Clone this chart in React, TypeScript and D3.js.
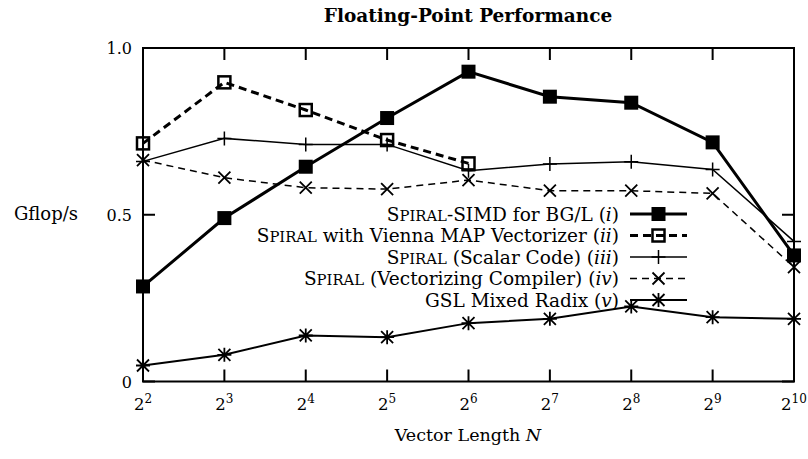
import React from 'react';
import * as d3 from 'd3';

// x positions are powers of two: 2^2 .. 2^10
const exponents = [2, 3, 4, 5, 6, 7, 8, 9, 10];

// Gflop/s per series
const simdBGL = [0.285, 0.49, 0.644, 0.79, 0.929, 0.854, 0.836, 0.717, 0.378];
const viennaMAP = [0.714, 0.897, 0.814, 0.724, 0.654];
const scalarCode = [0.66, 0.729, 0.711, 0.711, 0.632, 0.652, 0.659, 0.636, 0.42];
const vectCompiler = [0.664, 0.611, 0.581, 0.577, 0.604, 0.572, 0.572, 0.564, 0.343];
const gslRadix = [0.048, 0.08, 0.138, 0.133, 0.175, 0.188, 0.225, 0.193, 0.188];

const yTicks = [0, 0.5, 1.0];
const yTickLabels = ['0', '0.5', '1.0'];

const FONT = "'DejaVu Serif', serif";
const LEG_FS = 18.5;

type Marker = 'filled' | 'open' | 'plus' | 'cross' | 'star';

const series = [
  { spiral: true, label: '-SIMD for BG/L ', roman: 'i', values: simdBGL, marker: 'filled' as Marker, width: 3, dash: null },
  { spiral: true, label: ' with Vienna MAP Vectorizer ', roman: 'ii', values: viennaMAP, marker: 'open' as Marker, width: 3, dash: '8,5' },
  { spiral: true, label: ' (Scalar Code) ', roman: 'iii', values: scalarCode, marker: 'plus' as Marker, width: 1.5, dash: null },
  { spiral: true, label: ' (Vectorizing Compiler) ', roman: 'iv', values: vectCompiler, marker: 'cross' as Marker, width: 1.5, dash: '7,5' },
  { spiral: false, label: 'GSL Mixed Radix ', roman: 'v', values: gslRadix, marker: 'star' as Marker, width: 2, dash: null },
];

const drawMarker = (m: Marker, x: number, y: number, key: string) => {
  const s = 7;
  switch (m) {
    case 'filled':
      return <rect key={key} x={x - s} y={y - s} width={2 * s} height={2 * s} fill="#000" />;
    case 'open':
      return <rect key={key} x={x - 6} y={y - 6} width={12} height={12} fill="none" stroke="#000" strokeWidth={2.5} />;
    case 'plus':
      return <path key={key} d={`M${x - 7},${y}H${x + 7}M${x},${y - 7}V${y + 7}`} stroke="#000" strokeWidth={1.5} />;
    case 'cross':
      return <path key={key} d={`M${x - 6},${y - 6}L${x + 6},${y + 6}M${x - 6},${y + 6}L${x + 6},${y - 6}`} stroke="#000" strokeWidth={1.8} />;
    default:
      return (
        <path
          key={key}
          d={`M${x - 7},${y}H${x + 7}M${x},${y - 7}V${y + 7}M${x - 6},${y - 6}L${x + 6},${y + 6}M${x - 6},${y + 6}L${x + 6},${y - 6}`}
          stroke="#000"
          strokeWidth={1.8}
        />
      );
  }
};

export default function App() {
  const left = 143, right = 794, top = 48, bottom = 381.5;
  const x = d3.scaleLinear().domain([2, 10]).range([left, right]);
  const y = d3.scaleLinear().domain([0, 1]).range([bottom, top]);
  const line = d3.line<number>().x((d, i) => x(exponents[i])).y((d) => y(d));
  const tick = 12;

  return (
    <svg width={808} height={459} style={{ position: 'absolute', left: 0, top: 0, background: '#fff', fontFamily: FONT }}>
      <text x={468} y={22} textAnchor="middle" fontWeight="bold" fontSize={18.5}>
        Floating-Point Performance
      </text>

      {/* frame and ticks */}
      <rect x={left} y={top} width={right - left} height={bottom - top} fill="none" stroke="#000" strokeWidth={2} />
      {exponents.map((e) => (
        <g key={'xt' + e}>
          <line x1={x(e)} x2={x(e)} y1={bottom} y2={bottom - tick} stroke="#000" strokeWidth={2} />
          <line x1={x(e)} x2={x(e)} y1={top} y2={top + tick} stroke="#000" strokeWidth={2} />
          <text x={x(e)} y={410} textAnchor="middle" fontSize={16.5}>
            2<tspan dy={-7} fontSize={12}>{e}</tspan>
          </text>
        </g>
      ))}
      {yTicks.map((t, i) => (
        <g key={'yt' + t}>
          <line x1={left} x2={left + tick} y1={y(t)} y2={y(t)} stroke="#000" strokeWidth={2} />
          <line x1={right} x2={right - tick} y1={y(t)} y2={y(t)} stroke="#000" strokeWidth={2} />
          <text x={left - 11} y={y(t) + 6} textAnchor="end" fontSize={16}>
            {yTickLabels[i]}
          </text>
        </g>
      ))}

      <text x={46} y={220} textAnchor="middle" fontSize={18}>Gflop/s</text>
      <text x={468} y={441} textAnchor="middle" fontSize={17.5}>
        Vector Length <tspan fontStyle="italic">N</tspan>
      </text>

      {/* series */}
      {series.map((s, si) => (
        <g key={'s' + si}>
          <path d={line(s.values) || ''} fill="none" stroke="#000" strokeWidth={s.width} strokeDasharray={s.dash || undefined} />
          {s.values.map((v, i) => drawMarker(s.marker, x(exponents[i]), y(v), `m${si}-${i}`))}
        </g>
      ))}

      {/* legend */}
      {series.map((s, si) => {
        const ly = 214 + si * 21.5;
        return (
          <g key={'l' + si}>
            <text x={619} y={ly + 6.5} textAnchor="end" fontSize={LEG_FS}>
              {s.spiral && (
                <>
                  S<tspan fontSize={LEG_FS * 0.8}>PIRAL</tspan>
                </>
              )}
              {s.label}(<tspan fontStyle="italic">{s.roman}</tspan>)
            </text>
            <line x1={630} x2={687} y1={ly} y2={ly} stroke="#000" strokeWidth={s.width} strokeDasharray={s.dash || undefined} />
            {drawMarker(s.marker, 658.5, ly, 'lm' + si)}
          </g>
        );
      })}
    </svg>
  );
}
